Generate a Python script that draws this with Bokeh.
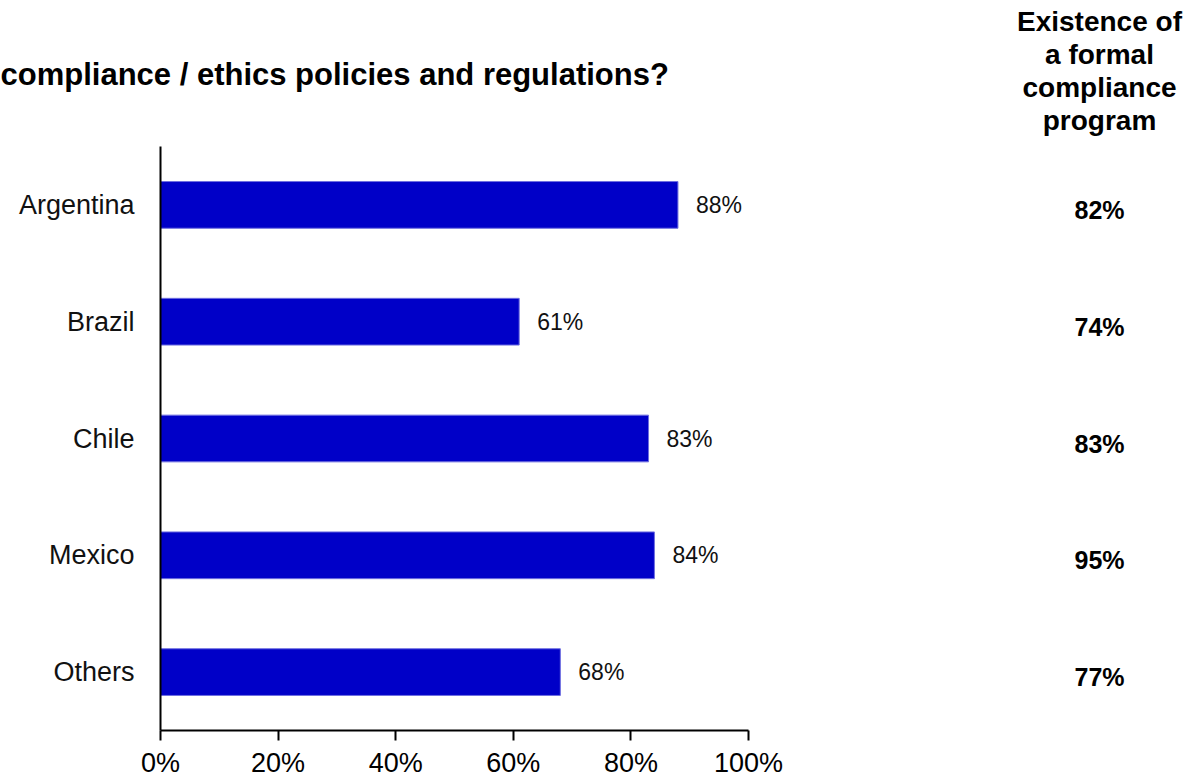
from bokeh.plotting import figure
from bokeh.models import ColumnDataSource, LabelSet, FactorRange, Range1d, FixedTicker, Title
from bokeh.layouts import row
from bokeh.core.properties import value
from bokeh.embed import file_html
from bokeh.resources import INLINE

countries = ["Argentina", "Brazil", "Chile", "Mexico", "Others"]
policy_pct = [88, 61, 83, 84, 68]
program_pct = [82, 74, 83, 95, 77]
x_ticks = [0, 20, 40, 60, 80, 100]
title_text = "compliance / ethics policies and regulations?"
header_lines = ["Existence of", "a formal", "compliance", "program"]

FONT = "Liberation Sans"

src = ColumnDataSource(dict(
    country=countries,
    pct=policy_pct,
    pct_label=[f"{v}%" for v in policy_pct],
    prog=program_pct,
    prog_label=[f"{v}%" for v in program_pct],
    prog_x=[0.5] * len(countries),
))

yr = FactorRange(*reversed(countries), range_padding=0)

TOP, BOTTOM = 146, 52

p = figure(width=800, height=782, output_backend="svg", toolbar_location=None,
           y_range=yr, x_range=Range1d(0, 100),
           min_border_left=160, min_border_right=52, min_border_top=TOP, min_border_bottom=BOTTOM)

p.hbar(y="country", right="pct", left=0, height=0.4, source=src,
       fill_color="#0000C8", line_color="#6F6FE0", line_width=1)

p.add_layout(LabelSet(x="pct", y="country", text="pct_label", source=src,
                      x_offset=18, text_align="left", text_baseline="middle",
                      text_font=value(FONT), text_font_size="23px", text_color="#111111"))

# spacer between frame and title
p.add_layout(Title(text=" ", text_font_size="34px", standoff=10), "above")

p.title.text = title_text
p.title.align = "left"
p.title.offset = -160
p.title.text_font = FONT
p.title.text_font_size = "31px"
p.title.text_font_style = "bold"
p.title.text_color = "#000000"

p.xgrid.visible = False
p.ygrid.visible = False
p.outline_line_color = None

p.xaxis.ticker = FixedTicker(ticks=x_ticks)
p.xaxis.major_label_overrides = {t: f"{t}%" for t in x_ticks}
p.xaxis.major_tick_out = 10
p.xaxis.major_tick_in = 0
p.xaxis.minor_tick_line_color = None
p.xaxis.major_tick_line_width = 2
p.xaxis.axis_line_width = 2
p.xaxis.major_label_standoff = 7
p.xaxis.major_label_text_font = FONT
p.xaxis.major_label_text_font_size = "27px"
p.xaxis.major_label_text_color = "#000000"

p.yaxis.major_tick_line_color = None
p.yaxis.minor_tick_line_color = None
p.yaxis.axis_line_width = 2
p.yaxis.major_label_standoff = 20
p.yaxis.major_label_text_font = FONT
p.yaxis.major_label_text_font_size = "27px"
p.yaxis.major_label_text_color = "#111111"

# right-hand column: existence of a formal compliance program
q = figure(width=398, height=782, output_backend="svg", toolbar_location=None,
           y_range=yr, x_range=Range1d(0, 1),
           min_border_left=200, min_border_right=0, min_border_top=TOP, min_border_bottom=BOTTOM)
q.axis.visible = False
q.xgrid.visible = False
q.ygrid.visible = False
q.outline_line_color = None
q.text(x="prog_x", y="country", text="prog_label", source=src, y_offset=5,
       text_align="center", text_baseline="middle", text_font=value(FONT),
       text_font_size="25px", text_font_style="bold", text_color="#000000")

hdr_style = dict(align="center", text_font=FONT, text_font_size="28px",
                 text_font_style="bold", text_color="#000000")
# spacer, then header lines stacked from the frame outward
q.add_layout(Title(text=" ", text_font_size="8px", standoff=0), "above")
for line in reversed(header_lines[1:]):
    q.add_layout(Title(text=line, standoff=0, **hdr_style), "above")
q.title.text = header_lines[0]
q.title.standoff = 0
for k, v in hdr_style.items():
    setattr(q.title, k, v)

open("out.html", "w").write(file_html(row(p, q), INLINE))
